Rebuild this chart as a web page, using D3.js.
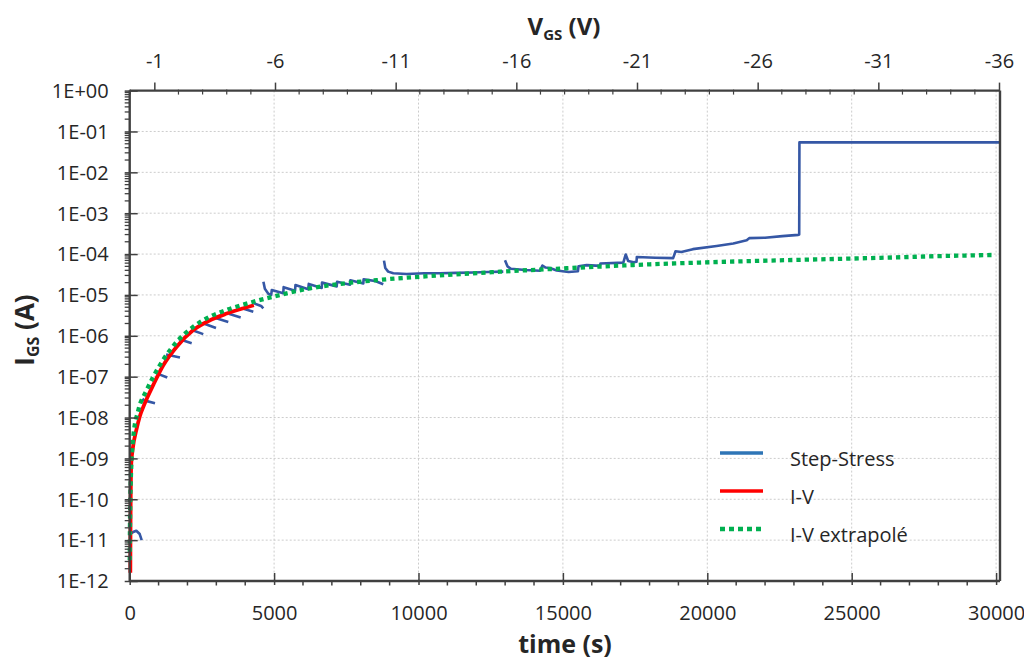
<!DOCTYPE html>
<html><head><meta charset="utf-8">
<script src="https://cdn.jsdelivr.net/npm/d3@7"></script>
<style>
body{margin:0;background:#fff;}
svg{display:block;font-family:'Open Sans',sans-serif;}
</style>
</head><body>
<svg id="c" width="1024" height="660"></svg>
<script>
// ---------- data ----------
const xTicks = [0, 5000, 10000, 15000, 20000, 25000, 30000];
const xTickLabels = ["0", "5000", "10000", "15000", "20000", "25000", "30000"];
const vTicks = [-1, -6, -11, -16, -21, -26, -31, -36];
const vTickLabels = ["-1", "-6", "-11", "-16", "-21", "-26", "-31", "-36"];
const yTicks = [1e0, 1e-1, 1e-2, 1e-3, 1e-4, 1e-5, 1e-6, 1e-7, 1e-8, 1e-9, 1e-10, 1e-11, 1e-12];
const yTickLabels = ["1E+00", "1E-01", "1E-02", "1E-03", "1E-04", "1E-05", "1E-06", "1E-07", "1E-08", "1E-09", "1E-10", "1E-11", "1E-12"];
const seriesNames = ["Step-Stress", "I-V", "I-V extrapolé"];
const seriesColors = ["#2e75b6", "#ff0000", "#00b050"];

// Step-Stress measurement (time s, current A); null = gap in the record
const ssTime = [
  0, 120, 229, 346, 415, null,
  440, 500, 876, null,
  980, 1300, null,
  1260, 1741, null,
  1700, 2146, null,
  2150, 2548, null,
  2560, 2988, null,
  3000, 3414, null,
  3430, 3843, null,
  3860, 4280, null,
  4290, 4550, 4626, null,
  4630, 4680, 4800, 4900, 4920, 5318, 5330, 5724, 5740, 6184, 6200, 6648, 6660, 7167, 7180, 7628, 7640, 8089, 8100, 8500, 8781, null,
  8805, 8850, 8950, 9127, 9591, 10200, 10745, 11300, 11898, 12400, 12936, null,
  12995, 13080, 13200, 13700, 14207, 14290, 14400, 14553, 14785, 15200, 15520, 15540, 15825, 16285, 16300, 17092,
  17175, 17260, 17450, 17549, 17560, 18200, 18817, 18900, 19100, 19500, 20323, 20900, 21364, 21450, 22000, 22600, 23150, 23182, 23190, 30135
];
const ssCurrent = [
  1.41e-11, 1.58e-11, 1.70e-11, 1.41e-11, 1.0e-11, null,
  2.88e-8, 2.63e-8, 2.24e-8, null,
  1.17e-7, 9.5e-8, null,
  3.47e-7, 2.95e-7, null,
  8.3e-7, 6.6e-7, null,
  1.38e-6, 1.10e-6, null,
  2.0e-6, 1.55e-6, null,
  2.69e-6, 2.19e-6, null,
  3.47e-6, 2.82e-6, null,
  4.79e-6, 3.89e-6, null,
  6.31e-6, 5.37e-6, 4.68e-6, null,
  2.09e-5, 1.41e-5, 1.07e-5, 1.0e-5, 1.32e-5, 1.10e-5, 1.55e-5, 1.26e-5, 1.74e-5, 1.38e-5, 1.86e-5, 1.48e-5, 2.0e-5, 1.62e-5, 2.09e-5, 1.78e-5, 2.29e-5, 1.91e-5, 2.40e-5, 2.19e-5, 1.82e-5, null,
  6.92e-5, 4.57e-5, 3.72e-5, 3.39e-5, 3.24e-5, 3.39e-5, 3.39e-5, 3.47e-5, 3.55e-5, 3.63e-5, 3.72e-5, null,
  7.08e-5, 5.01e-5, 4.37e-5, 4.07e-5, 3.89e-5, 5.25e-5, 4.68e-5, 4.57e-5, 3.98e-5, 3.63e-5, 3.80e-5, 5.01e-5, 5.37e-5, 5.13e-5, 5.89e-5, 6.17e-5,
  9.77e-5, 6.76e-5, 6.31e-5, 6.46e-5, 8.51e-5, 8.13e-5, 7.94e-5, 1.17e-4, 1.12e-4, 1.32e-4, 1.58e-4, 1.82e-4, 2.19e-4, 2.45e-4, 2.51e-4, 2.75e-4, 2.95e-4, 3.02e-4, 5.4e-2, 5.4e-2
];

// I-V sweep (converted to time axis)
const ivTime = [22, 27, 35, 55, 114, 229, 346, 519, 817, 1163, 1627, 2202, 2780, 3359, 4300];
const ivCurrent = [1.6e-12, 1.8e-11, 1.15e-10, 7.6e-10, 1.9e-9, 4.9e-9, 1.05e-8, 2.2e-8, 6.3e-8, 1.9e-7, 5.4e-7, 1.38e-6, 2.4e-6, 3.5e-6, 5.6e-6];

// I-V extrapolated
const exTime = [2, 10, 35, 125, 298, 589, 817, 1163, 1627, 2202, 2780, 3359, 4280, 4972, 6243, 7396, 8553, 10398, 12822, 15131, 17438, 19747, 22057, 23788, 26000, 28000, 29904];
const exCurrent = [3.2e-12, 2.5e-11, 2.5e-10, 3.4e-9, 1.5e-8, 4.7e-8, 1.0e-7, 2.6e-7, 7.1e-7, 1.66e-6, 2.95e-6, 4.3e-6, 6.8e-6, 9.1e-6, 1.45e-5, 1.9e-5, 2.3e-5, 2.9e-5, 3.7e-5, 4.5e-5, 5.4e-5, 6.2e-5, 6.9e-5, 7.4e-5, 8.1e-5, 8.9e-5, 9.5e-5];

// ---------- layout ----------
const plot = {left: 129.7, right: 1000, top: 90.6, bottom: 581};
const axisColor = "#404040", textColor = "#262626";
const svg = d3.select("#c");

const x = d3.scaleLinear().domain([0, 30135]).range([plot.left, plot.right]);
const xv = d3.scaleLinear().domain([0, -36]).range([130.2, 999]);
const y = d3.scaleLog().domain([1e-12, 1]).range([plot.bottom, plot.top]);

// grid
const grid = svg.append("g").attr("stroke", "#cccccc").attr("stroke-width", 1).attr("stroke-dasharray", "2,2");
grid.selectAll("line.h").data(yTicks.filter(d => d < 1 && d > 1e-12)).join("line").attr("class", "h")
  .attr("x1", plot.left).attr("x2", plot.right).attr("y1", d => y(d)).attr("y2", d => y(d));
grid.selectAll("line.v").data(xTicks.filter(d => d > 0)).join("line").attr("class", "v")
  .attr("y1", plot.top).attr("y2", plot.bottom).attr("x1", d => x(d)).attr("x2", d => x(d));

// clip
svg.append("clipPath").attr("id", "clip").append("rect")
  .attr("x", plot.left - 6).attr("y", plot.top).attr("width", plot.right - plot.left + 6).attr("height", plot.bottom - plot.top + 6);
const gSeries = svg.append("g").attr("clip-path", "url(#clip)");

const zip = (ts, vs) => ts.map((t, i) => ({t, v: vs[i]}));
const lineSS = d3.line().defined(d => d.t != null && d.v != null).x(d => x(d.t)).y(d => y(d.v));
const lineSmooth = d3.line().x(d => x(d.t)).y(d => y(d.v)).curve(d3.curveMonotoneX);

gSeries.append("path").datum(zip(ssTime, ssCurrent)).attr("d", lineSS)
  .attr("fill", "none").attr("stroke", "#3557a5").attr("stroke-width", 2.6).attr("stroke-linejoin", "round");
gSeries.append("path").datum(zip(ivTime, ivCurrent)).attr("d", lineSmooth)
  .attr("fill", "none").attr("stroke", seriesColors[1]).attr("stroke-width", 3.8);
gSeries.append("path").datum(zip(exTime, exCurrent)).attr("d", lineSmooth)
  .attr("fill", "none").attr("stroke", seriesColors[2]).attr("stroke-width", 4.3).attr("stroke-dasharray", "4.3,4");

// ---------- axes ----------
function styleAxis(g) {
  g.attr("font-size", null).attr("font-family", null);
  g.select(".domain").remove();
  g.selectAll(".tick line").attr("stroke", axisColor).attr("stroke-width", 1.5);
  g.selectAll(".tick text").attr("fill", textColor).style("font-size", "20px");
}
// bottom
const gx = svg.append("g").attr("transform", `translate(0,${plot.bottom})`)
  .call(d3.axisBottom(x).tickValues(xTicks).tickFormat((d, i) => xTickLabels[i]).tickSize(0));
styleAxis(gx);
gx.selectAll(".tick line").attr("y1", -8).attr("y2", 4);
gx.selectAll(".tick text").attr("y", 39).attr("dy", null);
const xMinor = d3.range(1000, 30001, 1000).filter(d => d % 5000 !== 0);
svg.append("g").selectAll("line").data(xMinor).join("line")
  .attr("x1", d => x(d)).attr("x2", d => x(d)).attr("y1", plot.bottom).attr("y2", plot.bottom + 4.5)
  .attr("stroke", axisColor).attr("stroke-width", 1.5);

// top
const gt = svg.append("g").attr("transform", `translate(0,${plot.top})`)
  .call(d3.axisTop(xv).tickValues(vTicks).tickFormat((d, i) => vTickLabels[i]).tickSize(0));
styleAxis(gt);
gt.selectAll(".tick line").attr("y1", -8).attr("y2", 0);
gt.selectAll(".tick text").attr("y", -23).attr("dy", null);
const vMinor = d3.range(0, -37, -1).filter(d => !vTicks.includes(d));
svg.append("g").selectAll("line").data(vMinor).join("line")
  .attr("x1", d => xv(d)).attr("x2", d => xv(d)).attr("y1", plot.top - 1).attr("y2", plot.top + 4)
  .attr("stroke", axisColor).attr("stroke-width", 1.2);

// left
const gy = svg.append("g").attr("transform", `translate(${plot.left},0)`)
  .call(d3.axisLeft(y).tickValues(yTicks).tickFormat((d, i) => yTickLabels[i]).tickSize(0));
styleAxis(gy);
gy.selectAll(".tick line").attr("x1", -5).attr("x2", 8);
gy.selectAll(".tick text").attr("x", -21).attr("dy", "0.34em");
const yMinor = [];
for (let e = -12; e < 0; e++) for (let k = 2; k <= 9; k++) yMinor.push(k * Math.pow(10, e));
svg.append("g").selectAll("line").data(yMinor).join("line")
  .attr("x1", plot.left - 5).attr("x2", plot.left).attr("y1", d => y(d)).attr("y2", d => y(d))
  .attr("stroke", axisColor).attr("stroke-width", 1.3);

// frame
const frame = svg.append("g").attr("stroke", axisColor).attr("stroke-width", 2.4);
frame.append("line").attr("x1", plot.left).attr("x2", plot.left).attr("y1", plot.top).attr("y2", plot.bottom);
frame.append("line").attr("x1", plot.left).attr("x2", plot.right).attr("y1", plot.bottom).attr("y2", plot.bottom);
frame.append("line").attr("x1", plot.left).attr("x2", plot.right).attr("y1", plot.top).attr("y2", plot.top);
frame.append("line").attr("x1", plot.right).attr("x2", plot.right).attr("y1", plot.top).attr("y2", plot.bottom);

// ---------- titles ----------
const tTop = svg.append("text").attr("x", 564).attr("y", 35).attr("text-anchor", "middle")
  .attr("font-weight", "bold").attr("fill", textColor).style("font-size", "24px");
tTop.append("tspan").text("V");
tTop.append("tspan").text("GS").style("font-size", "15px").attr("dy", 5);
tTop.append("tspan").text(" (V)").attr("dy", -5);

svg.append("text").attr("x", 565).attr("y", 653).attr("text-anchor", "middle")
  .attr("font-weight", "bold").attr("fill", textColor).style("font-size", "25px").text("time (s)");

const tY = svg.append("text").attr("transform", "translate(34,330) rotate(-90)").attr("text-anchor", "middle")
  .attr("font-weight", "bold").attr("fill", textColor).style("font-size", "26px");
tY.append("tspan").text("I");
tY.append("tspan").text("GS").style("font-size", "16px").attr("dy", 5);
tY.append("tspan").text(" (A)").attr("dy", -5);

// ---------- legend ----------
const lg = svg.append("g").attr("transform", "translate(720,453)");
const items = lg.selectAll("g").data(seriesNames).join("g").attr("transform", (d, i) => `translate(0,${i * 38})`);
items.append("line").attr("x1", 0).attr("x2", 43).attr("y1", 0).attr("y2", 0)
  .attr("stroke", (d, i) => seriesColors[i]).attr("stroke-width", (d, i) => i === 2 ? 4.5 : 3.6)
  .attr("stroke-dasharray", (d, i) => i === 2 ? "5,4" : null);
items.append("text").attr("x", 70).attr("y", 13).attr("fill", textColor).style("font-size", "20px").text(d => d);
</script>
</body></html>
